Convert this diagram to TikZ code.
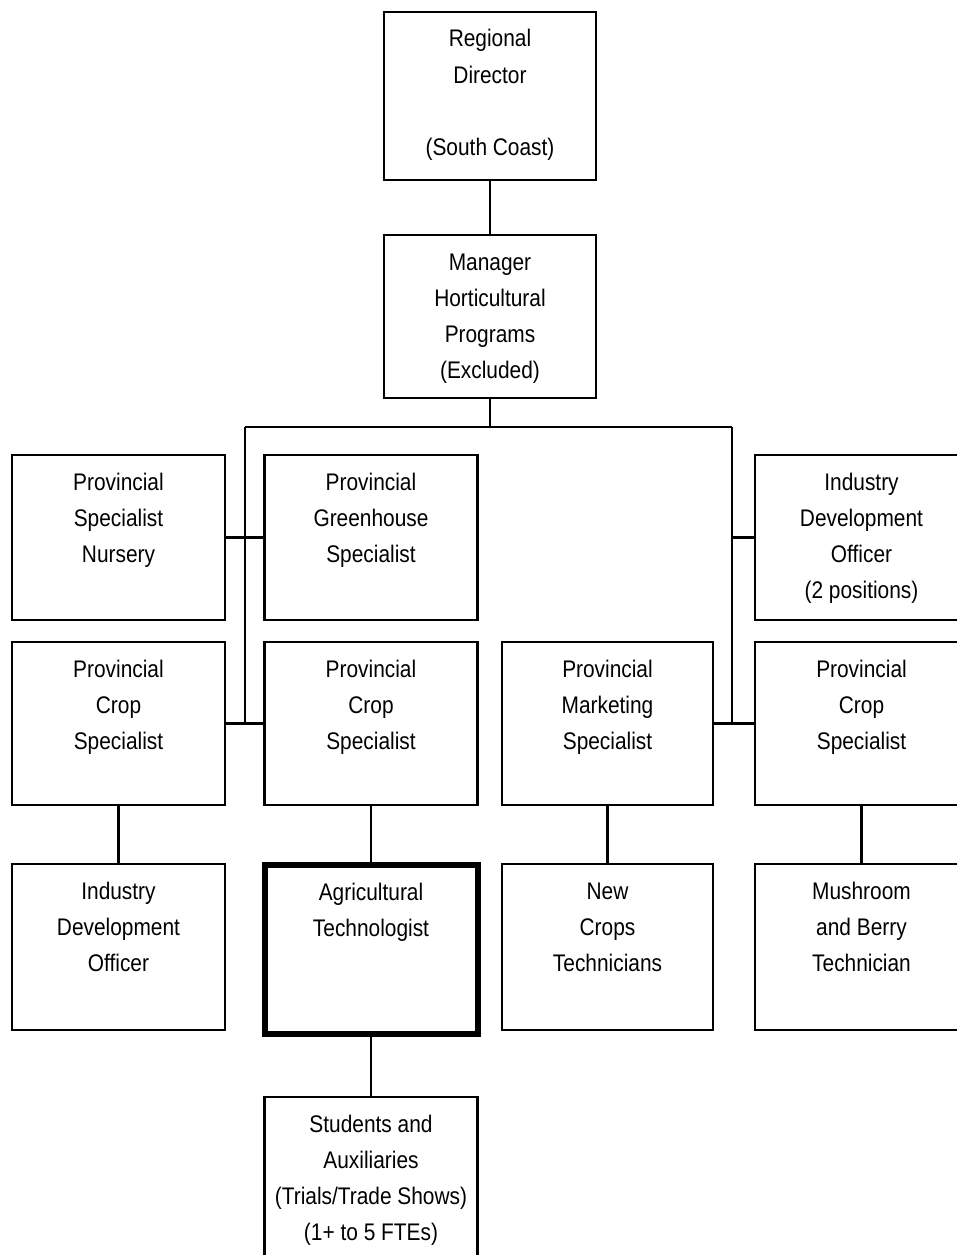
\documentclass[tikz,border=0pt]{standalone}
\usepackage{fontspec}
\setmainfont[FakeStretch=0.87]{Liberation Sans}
\newcommand{\boxtxt}[2]{\parbox[c][#1][t]{205pt}{\centering\fontsize{24}{36}\selectfont\rule{0pt}{35pt}#2}}
\tikzset{
  orgbox/.style={draw=black, line width=2.5pt, inner sep=0pt, fill=white, minimum width=213pt},
  thickbox/.style={orgbox, line width=6pt},
  link/.style={draw=black, line width=2.5pt}
}
\begin{document}
\begin{tikzpicture}[x=1pt,y=-1pt]
\useasboundingbox (0,0) rectangle (956,1255);
\fill[white] (0,0) rectangle (956,1255);
% connectors first
\coordinate (j) at (490,427);
\coordinate (trL) at (245,427);
\coordinate (trR) at (732,427);
% nodes
\node[orgbox, minimum width=212pt] (rd) at (490,96) {\boxtxt{168pt}{Regional\\Director\\\mbox{}\\(South Coast)}};
\node[orgbox, minimum width=212pt] (mgr) at (490,316.5) {\boxtxt{163pt}{Manager\\Horticultural\\Programs\\(Excluded)}};
\node[orgbox] (nursery) at (118.5,537.5) {\boxtxt{165pt}{Provincial\\Specialist\\Nursery}};
\node[orgbox] (greenhouse) at (371,537.5) {\boxtxt{165pt}{Provincial\\Greenhouse\\Specialist}};
\node[orgbox] (ido) at (861.5,537.5) {\boxtxt{165pt}{Industry\\Development\\Officer\\(2 positions)}};
\node[orgbox] (crop1) at (118.5,723.5) {\boxtxt{163pt}{Provincial\\Crop\\Specialist}};
\node[orgbox] (crop2) at (371,723.5) {\boxtxt{163pt}{Provincial\\Crop\\Specialist}};
\node[orgbox, minimum width=211pt] (marketing) at (607.5,723.5) {\boxtxt{163pt}{Provincial\\Marketing\\Specialist}};
\node[orgbox] (crop4) at (861.5,723.5) {\boxtxt{163pt}{Provincial\\Crop\\Specialist}};
\node[orgbox] (ido2) at (118.5,947) {\boxtxt{166pt}{Industry\\Development\\Officer}};
\node[thickbox] (agtech) at (371,949.5) {\boxtxt{169pt}{Agricultural\\Technologist}};
\node[orgbox, minimum width=211pt] (newcrops) at (607.5,947) {\boxtxt{166pt}{New\\Crops\\Technicians}};
\node[orgbox] (mushroom) at (861.5,947) {\boxtxt{166pt}{Mushroom\\and Berry\\Technician}};
\node[orgbox] (students) at (371,1185) {\boxtxt{176pt}{Students and\\Auxiliaries\\(Trials/Trade Shows)\\(1+ to 5 FTEs)}};
% links
\draw[link] (rd.south) -- (mgr.north);
\draw[link] (mgr.south) -- (j);
\draw[link] (trL) -- (trR);
\draw[link] (trL) -- (trL |- crop1.east);
\draw[link] (trR) -- (trR |- crop4.west);
\draw[link] (nursery.east) -- (greenhouse.west);
\draw[link] (ido.west) -- (ido.west -| trR);
\draw[link] (crop1.east) -- (crop2.west);
\draw[link] (marketing.east) -- (crop4.west);
\draw[link] (crop1.south) -- (ido2.north);
\draw[link] (crop2.south) -- (agtech.north);
\draw[link] (marketing.south) -- (newcrops.north);
\draw[link] (crop4.south) -- (mushroom.north);
\draw[link] (agtech.south) -- (students.north);
\end{tikzpicture}
\end{document}
